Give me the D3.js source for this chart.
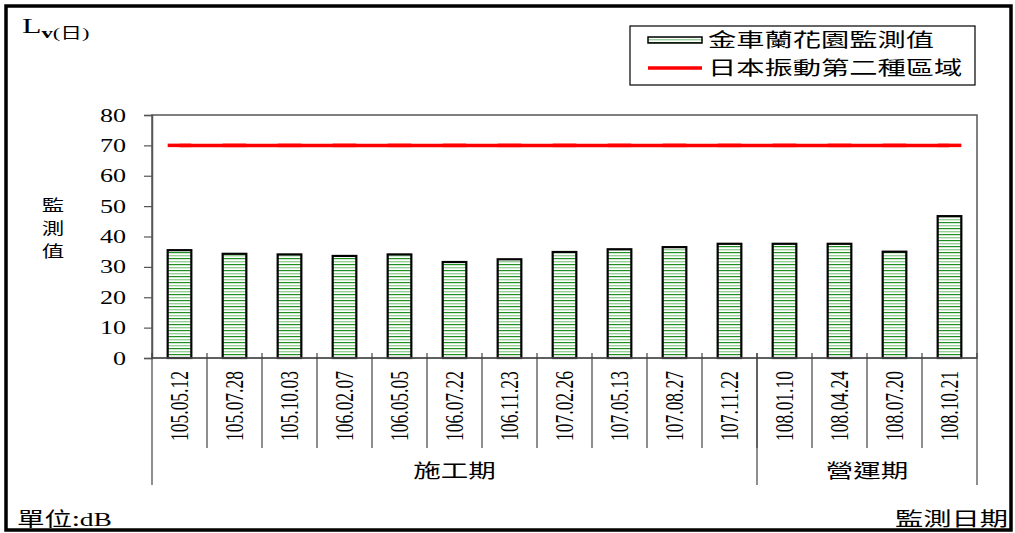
<!DOCTYPE html>
<html><head><meta charset="utf-8">
<script src="https://cdn.jsdelivr.net/npm/d3@7"></script>
<style>html,body{margin:0;padding:0;background:#fff;}svg{display:block;}</style>
</head><body>
<svg id="chart" width="1015" height="533"></svg>
<script>
const dates = ["105.05.12","105.07.28","105.10.03","106.02.07","106.05.05","106.07.22","106.11.23","107.02.26","107.05.13","107.08.27","107.11.22","108.01.10","108.04.24","108.07.20","108.10.21"];
const measured = [35.5, 34.3, 34.1, 33.6, 34.1, 31.6, 32.5, 34.9, 35.8, 36.5, 37.6, 37.6, 37.6, 35.0, 46.7];
const standard = [70,70,70,70,70,70,70,70,70,70,70,70,70,70,70];
const groupNames = ["施工期","營運期"];
const groupSizes = [11, 4];
const yTicks = [0,10,20,30,40,50,60,70,80];
const seriesNames = ["金車蘭花園監測值","日本振動第二種區域"];

const SERIF = "'Liberation Serif','Times New Roman',serif";
const CJK = "'Noto Sans CJK TC','Noto Sans CJK SC',sans-serif";
const SX = 1.45;

const svg = d3.select("#chart");
const L = 152, R = 977, T = 115, B = 358;

// pattern
const defs = svg.append("defs");
const pat = defs.append("pattern").attr("id","stripe").attr("patternUnits","userSpaceOnUse")
  .attr("width",8).attr("height",6);
pat.append("rect").attr("width",8).attr("height",6).attr("fill","#fff");
pat.append("rect").attr("y",0).attr("width",8).attr("height",1.2).attr("fill","#1f8f1f");
pat.append("rect").attr("y",3).attr("width",8).attr("height",1.4).attr("fill","#98cf98");

// outer frame
svg.append("rect").attr("x",6).attr("y",6).attr("width",1005).attr("height",524)
  .attr("fill","none").attr("stroke","#000").attr("stroke-width",3.5);

const x = d3.scaleBand().domain(dates).range([L,R]).padding(0);
const y = d3.scaleLinear().domain([0,80]).range([B,T]);
const bw = x.bandwidth()*0.43;

// plot border
svg.append("rect").attr("x",L).attr("y",T).attr("width",R-L).attr("height",B-T)
  .attr("fill","none").attr("stroke","#555").attr("stroke-width",1.5);

// y axis
const ya = svg.append("g").attr("transform",`translate(${L},0)`)
  .call(d3.axisLeft(y).tickValues(yTicks).tickSize(8).tickFormat(d3.format("d")));
ya.select(".domain").attr("stroke","#555").attr("stroke-width",1.5);
ya.selectAll(".tick line").attr("stroke","#555").attr("stroke-width",1.2);
ya.selectAll(".tick text").attr("x",-26/SX).attr("transform",`scale(${SX},1)`)
  .attr("font-family",SERIF).attr("font-size",18).attr("fill","#000").attr("dy","0.34em");

// bars
svg.append("g").selectAll("rect").data(measured).join("rect")
  .attr("x",(d,i)=>x(dates[i])+(x.bandwidth()-bw)/2)
  .attr("y",d=>y(d)).attr("width",bw).attr("height",d=>y(0)-y(d))
  .attr("fill","url(#stripe)").attr("stroke","#000").attr("stroke-width",2.2);

// standard line
const line = d3.line().x((d,i)=>x(dates[i])+x.bandwidth()/2).y(d=>y(d));
svg.append("path").datum(standard).attr("d",line).attr("fill","none")
  .attr("stroke","#ff0000").attr("stroke-width",3.5);
svg.append("g").selectAll("line").data(standard).join("line")
  .attr("x1",(d,i)=>x(dates[i])+(x.bandwidth()-bw)/2)
  .attr("x2",(d,i)=>x(dates[i])+(x.bandwidth()+bw)/2)
  .attr("y1",d=>y(d)).attr("y2",d=>y(d))
  .attr("stroke","#ff0000").attr("stroke-width",3.5);

// x axis line
svg.append("line").attr("x1",L).attr("x2",R).attr("y1",B).attr("y2",B)
  .attr("stroke","#555").attr("stroke-width",1.5);

// category separators
const bounds = dates.slice(1).map(d=>x(d));
svg.append("g").selectAll("line").data(bounds).join("line")
  .attr("x1",d=>d).attr("x2",d=>d).attr("y1",B-5).attr("y2",448)
  .attr("stroke","#444").attr("stroke-width",1.2);

// group separators
let acc = 0; const gb = [L];
groupSizes.forEach(n=>{acc+=n; gb.push(acc<dates.length? x(dates[acc]) : R);});
svg.append("g").selectAll("line").data(gb).join("line")
  .attr("x1",d=>d).attr("x2",d=>d).attr("y1",B-5).attr("y2",485)
  .attr("stroke","#444").attr("stroke-width",1.2);

// category labels (rotated)
svg.append("g").selectAll("text").data(dates).join("text")
  .attr("transform",d=>`translate(${x(d)+x.bandwidth()/2},406) scale(${SX},1) rotate(-90)`)
  .attr("text-anchor","middle").attr("dy","0.34em")
  .attr("font-family",SERIF).attr("font-size",17.5).attr("fill","#000").text(d=>d);

// group labels
svg.append("g").selectAll("text").data(groupNames).join("text")
  .attr("transform",(d,i)=>`translate(${(gb[i]+gb[i+1])/2},478) scale(${SX},1)`)
  .attr("text-anchor","middle").attr("font-family",CJK).attr("font-size",19)
  .attr("fill","#000").text(d=>d);

// y title vertical
const yt = "監測值".split("");
svg.append("g").selectAll("text").data(yt).join("text")
  .attr("transform",(d,i)=>`translate(53,${211+i*23}) scale(${SX},1)`)
  .attr("text-anchor","middle").attr("font-family",CJK).attr("font-size",15.5)
  .attr("fill","#000").text(d=>d);

// top-left unit label L_v(日)
const tl = svg.append("text").attr("transform",`translate(22,33) scale(${SX},1)`)
  .attr("font-family",SERIF).attr("fill","#000");
tl.append("tspan").attr("font-size",22).text("L");
tl.append("tspan").attr("font-size",15.5).attr("font-weight","bold").attr("dy",5).text("v");
tl.append("tspan").attr("font-size",15.5).text("(");
tl.append("tspan").attr("font-size",15).attr("font-family",CJK).text("日");
tl.append("tspan").attr("font-size",15.5).text(")");

// bottom texts
svg.append("text").attr("transform",`translate(17,526) scale(${SX},1)`)
  .attr("font-family",CJK).attr("font-size",19).attr("fill","#000")
  .text("單位:").append("tspan").attr("font-family",SERIF).attr("font-size",19).text("dB");
svg.append("text").attr("transform",`translate(1008,526) scale(${SX},1)`)
  .attr("text-anchor","end").attr("font-family",CJK).attr("font-size",19.5).attr("fill","#000")
  .text("監測日期");

// legend
const lg = svg.append("g");
lg.append("rect").attr("x",630).attr("y",26).attr("width",345).attr("height",59)
  .attr("fill","#fff").attr("stroke","#000").attr("stroke-width",1.2);
lg.append("rect").attr("x",648).attr("y",37).attr("width",54).attr("height",6)
  .attr("fill","url(#stripe)").attr("stroke","#000").attr("stroke-width",1.5);
lg.append("line").attr("x1",648).attr("x2",702).attr("y1",68).attr("y2",68)
  .attr("stroke","#ff0000").attr("stroke-width",3.5);
lg.selectAll("text.l").data(seriesNames).join("text").attr("class","l")
  .attr("transform",(d,i)=>`translate(708,${47+i*28}) scale(${SX},1)`)
  .attr("font-family",CJK).attr("font-size",19.5).attr("fill","#000").text(d=>d);
</script>
</body></html>
